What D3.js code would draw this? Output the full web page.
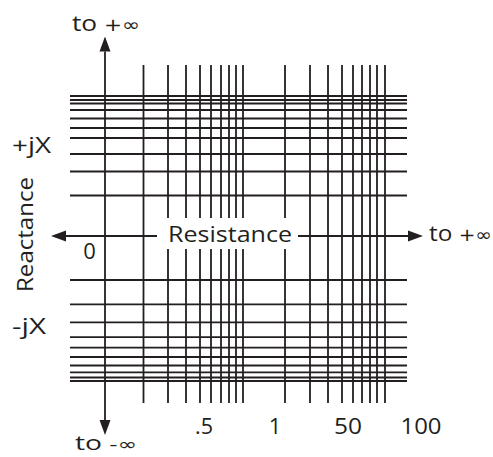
<!DOCTYPE html>
<html><head><meta charset="utf-8">
<script src="https://cdn.jsdelivr.net/npm/d3@7"></script>
<style>
body{margin:0;background:#fff}
svg{display:block}
text{font-family:"Open Sans",sans-serif;fill:#231f20}
</style>
</head><body>
<svg id="c" width="493" height="457"></svg>
<script>
// Resistance grid lines (chart units, 0 = reactance axis)
const resistanceGrid = [38.5, 63, 81, 95, 106, 116, 124, 131, 138, 180, 205, 223, 237, 248, 257, 265, 272, 280];
// Reactance grid lines (chart units, 0 = resistance axis)
const reactancePositive = [40.5, 64.5, 82, 98, 108, 117.5, 126, 132.5, 136, 140];
const reactanceNegative = [-44, -68.3, -86.3, -101.2, -111.7, -121, -129.5, -136.3, -141.5, -145];
const resistanceTickValues = [99, 170, 243, 316];
const resistanceTickLabels = [".5", "1", "50", "100"];
const resistanceTickWidths = [18, 0, 28, 41];
const reactanceLabelValues = [91, -90];
const reactanceLabels = ["+jX", "-jX"];
const reactanceLabelWidths = [39, 34];

const ink = "#231f20";
const svg = d3.select("#c");
const x = d3.scaleLinear().domain([0, 302]).range([105, 407]);
const y = d3.scaleLinear().domain([-150, 150]).range([386, 86]);

const gridX = [-35, 302];       // extent of reactance lines
const gridY = [171, -167];      // extent of resistance lines
const gapY = [18, -13];         // gap for the "Resistance" label

svg.append("defs").append("marker")
  .attr("id", "arr").attr("markerUnits", "userSpaceOnUse")
  .attr("viewBox", "0 -6 15 12").attr("refX", 0).attr("refY", 0)
  .attr("markerWidth", 15).attr("markerHeight", 12).attr("orient", "auto")
  .append("path").attr("d", "M0,-5.5L15,0L0,5.5Z").attr("fill", ink);

const g = svg.append("g").attr("stroke", ink).attr("stroke-width", 1.8);

// reactance (horizontal) grid lines
g.selectAll("line.h").data(reactancePositive.concat(reactanceNegative)).join("line")
  .attr("class", "h")
  .attr("x1", x(gridX[0])).attr("x2", x(gridX[1]))
  .attr("y1", d => y(d)).attr("y2", d => y(d));

// label
svg.append("text").attr("x", 230).attr("y", 242)
  .attr("text-anchor", "middle").attr("font-size", 22)
  .attr("textLength", 124).attr("lengthAdjust", "spacingAndGlyphs")
  .text("Resistance");
const lx0 = 162, lx1 = 295;

// resistance (vertical) grid lines
resistanceGrid.forEach(r => {
  const px = x(r);
  const segs = (px > lx0 && px < lx1) ? [[gridY[0], gapY[0]], [gapY[1], gridY[1]]] : [[gridY[0], gridY[1]]];
  segs.forEach(s => g.append("line").attr("x1", px).attr("x2", px).attr("y1", y(s[0])).attr("y2", y(s[1])));
});

// axes with arrows
g.append("line").attr("x1", x(0)).attr("x2", x(0)).attr("y1", y(0)).attr("y2", y(184.5)).attr("marker-end", "url(#arr)");
g.append("line").attr("x1", x(0)).attr("x2", x(0)).attr("y1", y(0)).attr("y2", y(-184)).attr("marker-end", "url(#arr)");
g.append("line").attr("x1", x(52)).attr("x2", x(-39)).attr("y1", y(0)).attr("y2", y(0)).attr("marker-end", "url(#arr)");
g.append("line").attr("x1", x(193)).attr("x2", x(303)).attr("y1", y(0)).attr("y2", y(0)).attr("marker-end", "url(#arr)");

// texts
function inf(xp, yp, sign, len, fs) {
  const t = svg.append("text").attr("x", xp).attr("y", yp).attr("font-size", fs)
    .attr("textLength", len).attr("lengthAdjust", "spacingAndGlyphs");
  t.append("tspan").text("to ");
  t.append("tspan").attr("font-size", fs * 0.82).attr("font-family", "DejaVu Sans").text(sign + "\u221E");
}
inf(72, 31, "+", 68, 22);
inf(75, 450, "-", 62, 20);
inf(429, 241, "+", 63, 22);

svg.append("text").attr("x", 89.5).attr("y", 259).attr("text-anchor", "middle").attr("font-size", 22).text("0");

svg.selectAll("text.rt").data(resistanceTickValues).join("text").attr("class", "rt")
  .attr("x", d => x(d)).attr("y", 434).attr("text-anchor", "middle").attr("font-size", 22)
  .each(function (d, i) { if (resistanceTickWidths[i]) d3.select(this).attr("textLength", resistanceTickWidths[i]).attr("lengthAdjust", "spacingAndGlyphs"); })
  .text((d, i) => resistanceTickLabels[i]);

svg.selectAll("text.xl").data(reactanceLabelValues).join("text").attr("class", "xl")
  .attr("x", 12).attr("y", d => y(d) + 7.5).attr("font-size", 22)
  .attr("textLength", (d, i) => reactanceLabelWidths[i]).attr("lengthAdjust", "spacingAndGlyphs")
  .text((d, i) => reactanceLabels[i]);

svg.append("text").attr("transform", "translate(33,234.5) rotate(-90)")
  .attr("text-anchor", "middle").attr("font-size", 22)
  .attr("textLength", 115).attr("lengthAdjust", "spacingAndGlyphs").text("Reactance");
</script>
</body></html>
